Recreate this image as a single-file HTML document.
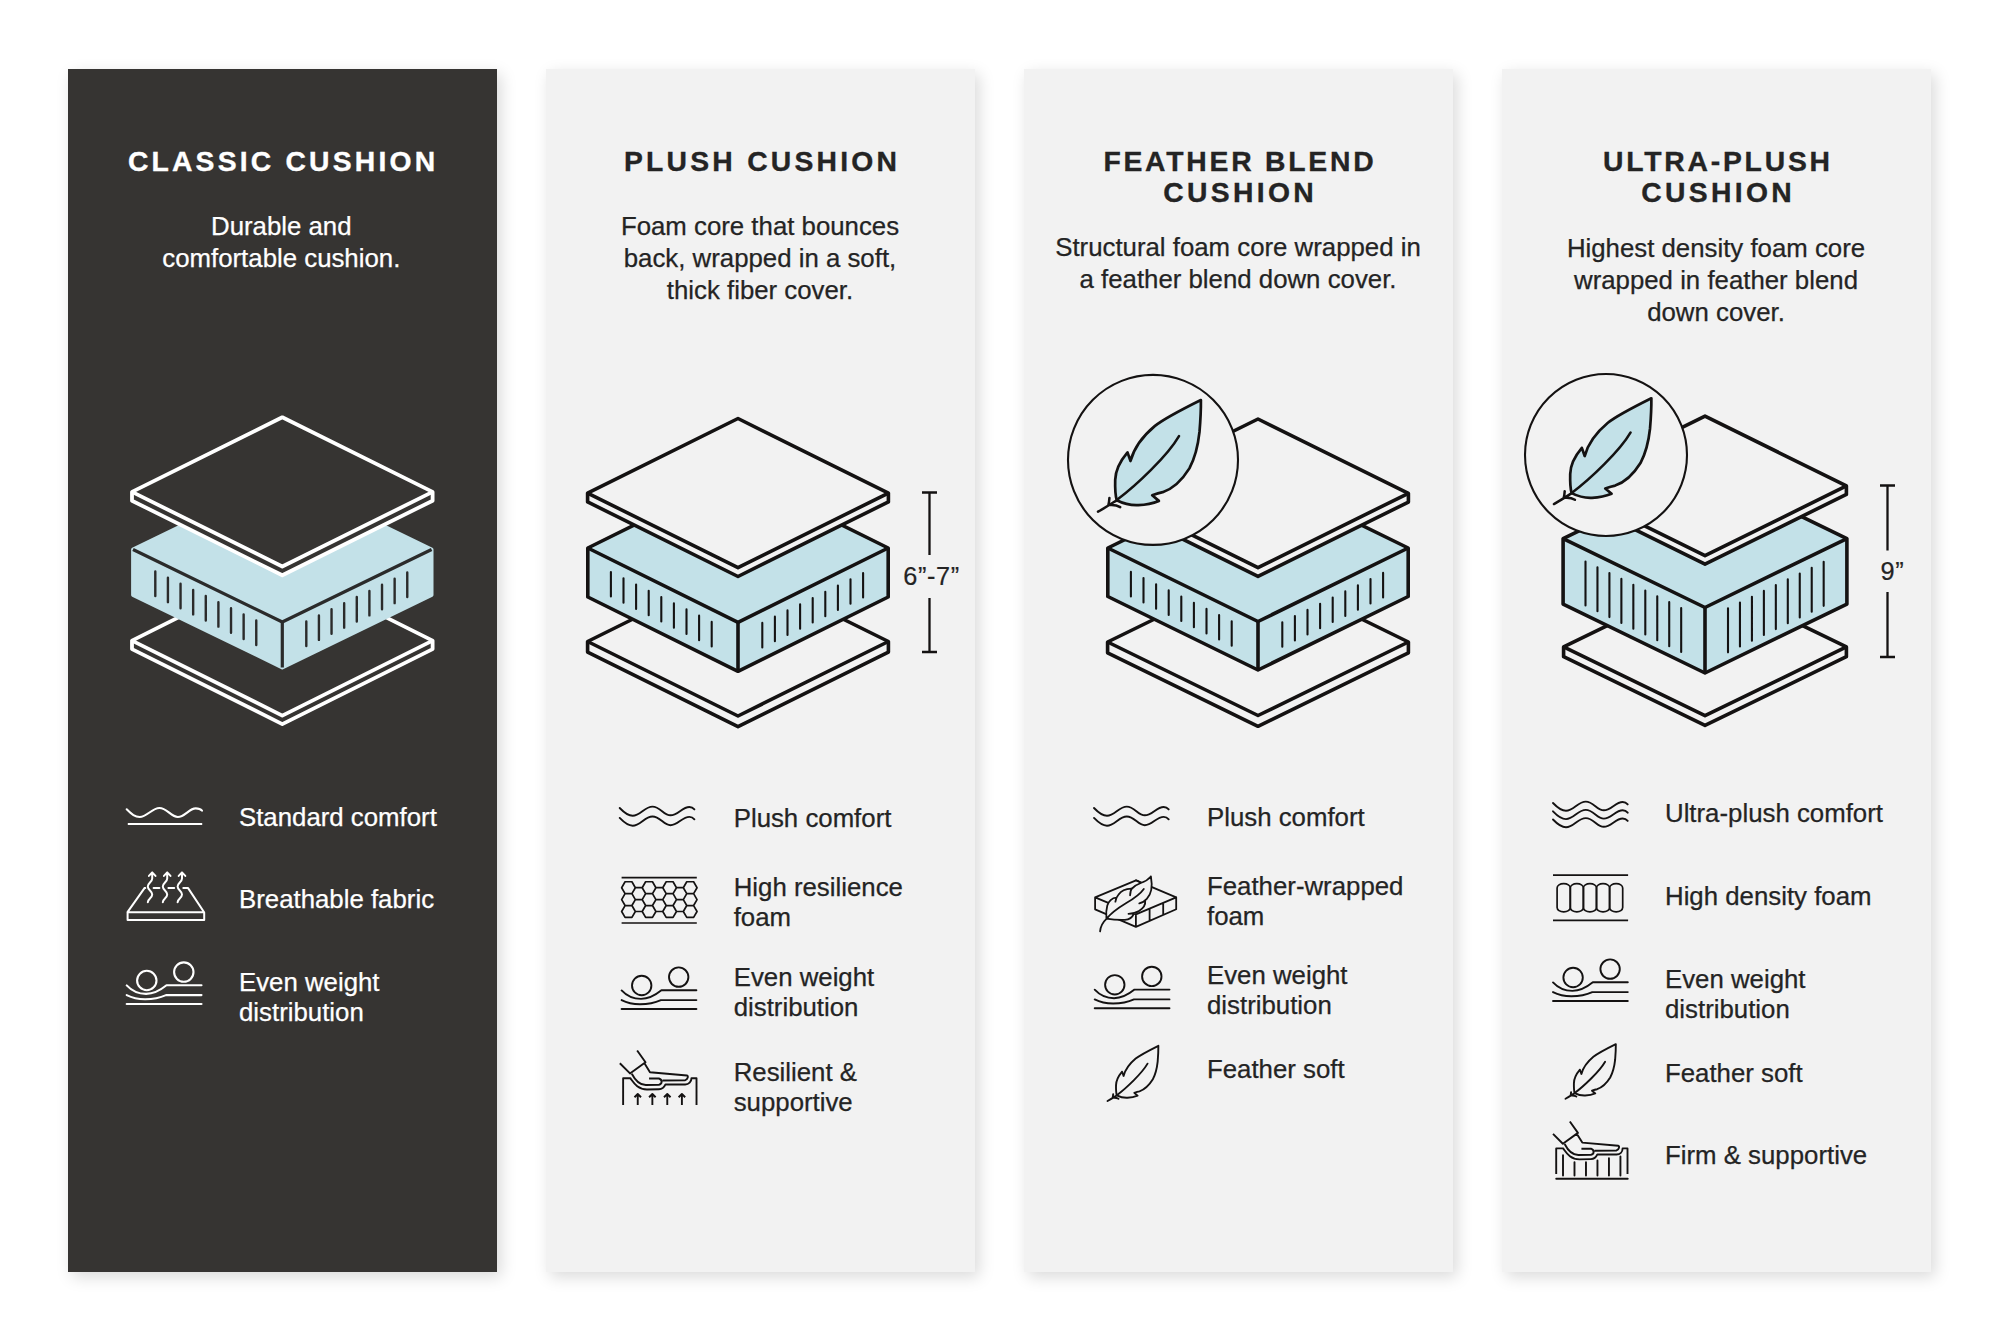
<!DOCTYPE html>
<html><head><meta charset="utf-8"><style>
html,body{margin:0;padding:0;background:#fff;width:2010px;height:1341px;overflow:hidden;position:relative}
.pnl{position:absolute;top:69px;width:429px;height:1203px;background:#f2f2f2;box-shadow:4px 5px 15px rgba(0,0,0,0.15)}
.pnl.dk{background:#363432}
div.ttl,div.dsc,div.lst,div.dim{position:absolute;font-family:"Liberation Sans",sans-serif;color:#242424;white-space:nowrap}
.ttl{font-weight:700;font-size:28.3px;line-height:31px;-webkit-text-stroke:0.35px currentColor}
.dsc{font-size:25.8px;line-height:32px;-webkit-text-stroke:0.25px currentColor}
.lst{font-size:25.8px;line-height:30px;-webkit-text-stroke:0.25px currentColor}
.dim{font-size:25.3px;line-height:30px;letter-spacing:0.6px;-webkit-text-stroke:0.2px currentColor}
div.wt{color:#fff}
svg{position:absolute;left:0;top:0}
</style></head><body>
<div class="pnl dk" style="left:68px"></div>
<div class="pnl" style="left:546px"></div>
<div class="pnl" style="left:1024px"></div>
<div class="pnl" style="left:1502px"></div>
<svg width="2010" height="1341" viewBox="0 0 2010 1341">
<polygon points="132.00,640.60 282.30,565.60 432.60,640.60 432.60,649.10 282.30,724.10 132.00,649.10" fill="#363432" stroke="#ffffff" stroke-width="3.8" stroke-linejoin="round"/>
<polyline points="132.00,640.60 282.30,715.60 432.60,640.60" fill="none" stroke="#ffffff" stroke-width="3.8" stroke-linejoin="round"/>
<polygon points="133.00,549.50 282.30,477.00 431.60,549.50 431.60,595.00 282.30,667.50 133.00,595.00" fill="#c3e1e8" stroke="#c3e1e8" stroke-width="3.8" stroke-linejoin="round"/>
<polyline points="133.00,549.50 282.30,622.00 431.60,549.50" fill="none" stroke="#2b2b2b" stroke-width="3.2" stroke-linejoin="round"/>
<line x1="282.30" y1="622.00" x2="282.30" y2="667.50" stroke="#2b2b2b" stroke-width="3.2"/>
<path d="M155.30 571.53v24.50M306.30 621.55v24.50M167.92 577.66v24.50M318.92 615.42v24.50M180.54 583.79v24.50M331.54 609.29v24.50M193.16 589.91v24.50M344.16 603.16v24.50M205.78 596.04v24.50M356.78 597.03v24.50M218.40 602.17v24.50M369.40 590.90v24.50M231.02 608.30v24.50M382.02 584.78v24.50M243.64 614.43v24.50M394.64 578.65v24.50M256.26 620.55v24.50M407.26 572.52v24.50" stroke="#2b2b2b" stroke-width="2.4" stroke-linecap="round" fill="none"/>
<polygon points="132.00,491.90 282.30,417.30 432.60,491.90 432.60,500.70 282.30,575.30 132.00,500.70" fill="#363432" stroke="#ffffff" stroke-width="3.8" stroke-linejoin="round"/>
<polyline points="132.00,491.90 282.30,566.50 432.60,491.90" fill="none" stroke="#ffffff" stroke-width="3.8" stroke-linejoin="round"/>
<polygon points="587.60,641.50 738.00,567.00 888.40,641.50 888.40,652.10 738.00,726.60 587.60,652.10" fill="#f2f2f2" stroke="#141212" stroke-width="3.6" stroke-linejoin="round"/>
<polyline points="587.60,641.50 738.00,716.00 888.40,641.50" fill="none" stroke="#141212" stroke-width="3.6" stroke-linejoin="round"/>
<polygon points="587.80,548.00 738.00,473.70 888.20,548.00 888.20,597.00 738.00,671.30 587.80,597.00" fill="#c3e1e8" stroke="#141212" stroke-width="3.6" stroke-linejoin="round"/>
<polyline points="587.80,548.00 738.00,622.30 888.20,548.00" fill="none" stroke="#141212" stroke-width="3.6" stroke-linejoin="round"/>
<line x1="738.00" y1="622.30" x2="738.00" y2="671.30" stroke="#141212" stroke-width="3.6"/>
<path d="M610.90 572.03v24.50M762.30 622.88v24.50M623.50 578.26v24.50M774.90 616.65v24.50M636.10 584.49v24.50M787.50 610.41v24.50M648.70 590.73v24.50M800.10 604.18v24.50M661.30 596.96v24.50M812.70 597.95v24.50M673.90 603.19v24.50M825.30 591.71v24.50M686.50 609.42v24.50M837.90 585.48v24.50M699.10 615.66v24.50M850.50 579.25v24.50M711.70 621.89v24.50M863.10 573.02v24.50" stroke="#141212" stroke-width="2.1" stroke-linecap="round" fill="none"/>
<polygon points="587.60,493.10 738.00,418.50 888.40,493.10 888.40,501.90 738.00,576.50 587.60,501.90" fill="#f2f2f2" stroke="#141212" stroke-width="3.6" stroke-linejoin="round"/>
<polyline points="587.60,493.10 738.00,567.70 888.40,493.10" fill="none" stroke="#141212" stroke-width="3.6" stroke-linejoin="round"/>
<polygon points="1107.60,642.00 1258.00,568.50 1408.40,642.00 1408.40,652.80 1258.00,726.30 1107.60,652.80" fill="#f2f2f2" stroke="#141212" stroke-width="3.6" stroke-linejoin="round"/>
<polyline points="1107.60,642.00 1258.00,715.50 1408.40,642.00" fill="none" stroke="#141212" stroke-width="3.6" stroke-linejoin="round"/>
<polygon points="1107.80,548.00 1258.00,474.50 1408.20,548.00 1408.20,596.50 1258.00,670.00 1107.80,596.50" fill="#c3e1e8" stroke="#141212" stroke-width="3.6" stroke-linejoin="round"/>
<polyline points="1107.80,548.00 1258.00,621.50 1408.20,548.00" fill="none" stroke="#141212" stroke-width="3.6" stroke-linejoin="round"/>
<line x1="1258.00" y1="621.50" x2="1258.00" y2="670.00" stroke="#141212" stroke-width="3.6"/>
<path d="M1130.90 571.90v24.50M1282.30 622.21v24.50M1143.50 578.07v24.50M1294.90 616.04v24.50M1156.10 584.24v24.50M1307.50 609.88v24.50M1168.70 590.40v24.50M1320.10 603.71v24.50M1181.30 596.57v24.50M1332.70 597.55v24.50M1193.90 602.73v24.50M1345.30 591.38v24.50M1206.50 608.90v24.50M1357.90 585.21v24.50M1219.10 615.06v24.50M1370.50 579.05v24.50M1231.70 621.23v24.50M1383.10 572.88v24.50" stroke="#141212" stroke-width="2.1" stroke-linecap="round" fill="none"/>
<polygon points="1107.60,493.30 1258.00,419.00 1408.40,493.30 1408.40,502.10 1258.00,576.40 1107.60,502.10" fill="#f2f2f2" stroke="#141212" stroke-width="3.6" stroke-linejoin="round"/>
<polyline points="1107.60,493.30 1258.00,567.60 1408.40,493.30" fill="none" stroke="#141212" stroke-width="3.6" stroke-linejoin="round"/>
<polygon points="1563.60,646.90 1705.00,578.20 1846.40,646.90 1846.40,656.70 1705.00,725.40 1563.60,656.70" fill="#f2f2f2" stroke="#141212" stroke-width="3.6" stroke-linejoin="round"/>
<polyline points="1563.60,646.90 1705.00,715.60 1846.40,646.90" fill="none" stroke="#141212" stroke-width="3.6" stroke-linejoin="round"/>
<polygon points="1563.10,538.60 1705.00,469.70 1846.90,538.60 1846.90,604.10 1705.00,673.00 1563.10,604.10" fill="#c3e1e8" stroke="#141212" stroke-width="3.6" stroke-linejoin="round"/>
<polyline points="1563.10,538.60 1705.00,607.50 1846.90,538.60" fill="none" stroke="#141212" stroke-width="3.6" stroke-linejoin="round"/>
<line x1="1705.00" y1="607.50" x2="1705.00" y2="673.00" stroke="#141212" stroke-width="3.6"/>
<path d="M1585.50 561.48v44.00M1728.00 608.33v44.00M1597.46 567.28v44.00M1739.96 602.53v44.00M1609.42 573.09v44.00M1751.92 596.72v44.00M1621.38 578.90v44.00M1763.88 590.91v44.00M1633.34 584.71v44.00M1775.84 585.10v44.00M1645.30 590.51v44.00M1787.80 579.30v44.00M1657.26 596.32v44.00M1799.76 573.49v44.00M1669.22 602.13v44.00M1811.72 567.68v44.00M1681.18 607.93v44.00M1823.68 561.87v44.00" stroke="#141212" stroke-width="2.1" stroke-linecap="round" fill="none"/>
<polygon points="1563.60,485.90 1705.00,416.10 1846.40,485.90 1846.40,494.40 1705.00,564.20 1563.60,494.40" fill="#f2f2f2" stroke="#141212" stroke-width="3.6" stroke-linejoin="round"/>
<polyline points="1563.60,485.90 1705.00,555.70 1846.40,485.90" fill="none" stroke="#141212" stroke-width="3.6" stroke-linejoin="round"/>
<path d="M922.0 492.5h15M929.5 492.5V555M929.5 598V652M922.0 652h15" stroke="#141212" stroke-width="2.3" fill="none"/>
<path d="M1880.0 485.5h15M1887.5 485.5V550.5M1887.5 592V657M1880.0 657h15" stroke="#141212" stroke-width="2.3" fill="none"/>
<circle cx="1153" cy="459.9" r="85" fill="#f2f2f2" stroke="#141212" stroke-width="2.1"/>
<g transform="translate(1153 459.9) scale(1.0)" stroke="#141212" stroke-linecap="round" stroke-linejoin="round"><path d="M47.9,-59.9 C30,-51 12,-42 2,-34 C-10,-24 -19,-12 -22.5,1.1 L-25.5,-7.5 C-31,-1 -37.5,9 -37.8,20 C-38,28 -37.5,36 -36.3,40.3 C-29,44 -21,45.5 -14.7,45.2 C-5,44.8 1,43 5.9,41 L-0.8,35.4 C3,34 6,33 9.7,32.3 C18,29.5 28,22 36.4,8.5 C42,-2 45,-14 46.5,-28 C47.5,-40 48,-52 47.9,-59.9 Z" fill="#c3e1e8" stroke-width="2.7" vector-effect="non-scaling-stroke"/><path d="M26,-23.8 C18,-10 8,0 -2,10 C-12,20 -24,31 -35.6,39.6 M-36,40.2 C-42,44 -48,48 -55,51.8 M-43.6,38.2 C-43.8,41 -44,43 -44.6,45 M-32.8,47.3 C-35,46 -39,45 -42.6,45.2" fill="none" stroke-width="2.5" vector-effect="non-scaling-stroke"/></g>
<circle cx="1606" cy="455" r="81" fill="#f2f2f2" stroke="#141212" stroke-width="2.1"/>
<g transform="translate(1606 455) scale(0.947)" stroke="#141212" stroke-linecap="round" stroke-linejoin="round"><path d="M47.9,-59.9 C30,-51 12,-42 2,-34 C-10,-24 -19,-12 -22.5,1.1 L-25.5,-7.5 C-31,-1 -37.5,9 -37.8,20 C-38,28 -37.5,36 -36.3,40.3 C-29,44 -21,45.5 -14.7,45.2 C-5,44.8 1,43 5.9,41 L-0.8,35.4 C3,34 6,33 9.7,32.3 C18,29.5 28,22 36.4,8.5 C42,-2 45,-14 46.5,-28 C47.5,-40 48,-52 47.9,-59.9 Z" fill="#c3e1e8" stroke-width="2.7" vector-effect="non-scaling-stroke"/><path d="M26,-23.8 C18,-10 8,0 -2,10 C-12,20 -24,31 -35.6,39.6 M-36,40.2 C-42,44 -48,48 -55,51.8 M-43.6,38.2 C-43.8,41 -44,43 -44.6,45 M-32.8,47.3 C-35,46 -39,45 -42.6,45.2" fill="none" stroke-width="2.5" vector-effect="non-scaling-stroke"/></g>
<g transform="translate(0 0) scale(1)" fill="none" stroke="#ffffff" stroke-width="2.1" stroke-linecap="round" stroke-linejoin="round"><path d="M126.7,809.3 C132,814.5 135,817 139.7,817 C147,817 152,808 159.4,808 C167,808 171,817 177.8,817 C185,817 189,808.4 195.7,808.4 C199,808.4 201,809.5 202,810.7" vector-effect="non-scaling-stroke" /><path d="M127.8,824 L202.2,824" vector-effect="non-scaling-stroke" stroke-linecap="butt"/></g>
<g transform="translate(0 0) scale(1)" fill="none" stroke="#ffffff" stroke-width="2.0" stroke-linecap="round" stroke-linejoin="round"><path d="M144.5,888.1 L127.5,912.2 L204.1,912.2 L188.1,888.1 L183.3,888.1 M159.4,888.1 L153.6,888.1 M174.2,888.1 L168.4,888.1 M127.6,912.5 L127.6,919.9 L204.2,919.9 L204.2,912.5 M144.5,888.1 L145.3,888.1 M147.8,902.2 C147.8,899 152.2,898 152.2,894.5 C152.2,891 147.8,890 147.8,886.5 C147.8,883 152.2,882 152.2,878.4 L152.2,872.4 M148.9,875.9 L152.2,872.4 L155.5,875.9 M162.8,902.2 C162.8,899 167.2,898 167.2,894.5 C167.2,891 162.8,890 162.8,886.5 C162.8,883 167.2,882 167.2,878.4 L167.2,872.4 M163.9,875.9 L167.2,872.4 L170.5,875.9 M177.60000000000002,902.2 C177.60000000000002,899 182.0,898 182.0,894.5 C182.0,891 177.60000000000002,890 177.60000000000002,886.5 C177.60000000000002,883 182.0,882 182.0,878.4 L182.0,872.4 M178.70000000000002,875.9 L182.0,872.4 L185.3,875.9" vector-effect="non-scaling-stroke" /></g>
<g transform="translate(126.7 1004) scale(1)" fill="none" stroke="#ffffff" stroke-width="2.1" stroke-linecap="round" stroke-linejoin="round"><circle cx="20.1" cy="-23.5" r="9.7" vector-effect="non-scaling-stroke"/><circle cx="57.1" cy="-31.9" r="9.7" vector-effect="non-scaling-stroke"/><path d="M0,-18.6 C5,-13.2 12,-10.1 19.4,-10.1 C27,-10.1 34,-14 39.8,-18.7 L74.8,-18.7" vector-effect="non-scaling-stroke"/><path d="M0,-8.9 C6,-5.8 12,-4.8 18.4,-4.8 C27,-4.8 34,-6.5 39.3,-8.9 L74.8,-8.9" vector-effect="non-scaling-stroke"/><path d="M0,0 L74.8,0" vector-effect="non-scaling-stroke"/></g>
<g transform="translate(621.6 1009) scale(1)" fill="none" stroke="#141212" stroke-width="1.9" stroke-linecap="round" stroke-linejoin="round"><circle cx="20.1" cy="-23.5" r="9.7" vector-effect="non-scaling-stroke"/><circle cx="57.1" cy="-31.9" r="9.7" vector-effect="non-scaling-stroke"/><path d="M0,-18.6 C5,-13.2 12,-10.1 19.4,-10.1 C27,-10.1 34,-14 39.8,-18.7 L74.8,-18.7" vector-effect="non-scaling-stroke"/><path d="M0,-8.9 C6,-5.8 12,-4.8 18.4,-4.8 C27,-4.8 34,-6.5 39.3,-8.9 L74.8,-8.9" vector-effect="non-scaling-stroke"/><path d="M0,0 L74.8,0" vector-effect="non-scaling-stroke"/></g>
<g transform="translate(1094.7 1008.3) scale(1)" fill="none" stroke="#141212" stroke-width="1.9" stroke-linecap="round" stroke-linejoin="round"><circle cx="20.1" cy="-23.5" r="9.7" vector-effect="non-scaling-stroke"/><circle cx="57.1" cy="-31.9" r="9.7" vector-effect="non-scaling-stroke"/><path d="M0,-18.6 C5,-13.2 12,-10.1 19.4,-10.1 C27,-10.1 34,-14 39.8,-18.7 L74.8,-18.7" vector-effect="non-scaling-stroke"/><path d="M0,-8.9 C6,-5.8 12,-4.8 18.4,-4.8 C27,-4.8 34,-6.5 39.3,-8.9 L74.8,-8.9" vector-effect="non-scaling-stroke"/><path d="M0,0 L74.8,0" vector-effect="non-scaling-stroke"/></g>
<g transform="translate(1553 1001) scale(1)" fill="none" stroke="#141212" stroke-width="1.9" stroke-linecap="round" stroke-linejoin="round"><circle cx="20.1" cy="-23.5" r="9.7" vector-effect="non-scaling-stroke"/><circle cx="57.1" cy="-31.9" r="9.7" vector-effect="non-scaling-stroke"/><path d="M0,-18.6 C5,-13.2 12,-10.1 19.4,-10.1 C27,-10.1 34,-14 39.8,-18.7 L74.8,-18.7" vector-effect="non-scaling-stroke"/><path d="M0,-8.9 C6,-5.8 12,-4.8 18.4,-4.8 C27,-4.8 34,-6.5 39.3,-8.9 L74.8,-8.9" vector-effect="non-scaling-stroke"/><path d="M0,0 L74.8,0" vector-effect="non-scaling-stroke"/></g>
<g transform="translate(0 0) scale(1)" fill="none" stroke="#141212" stroke-width="1.9" stroke-linecap="round" stroke-linejoin="round"><path d="M619.7,808 C624.7,813.2 628.2,815.8 632.7,815.8 C640.2,815.8 644.7,806.6 652.5,806.6 C660.2,806.6 663.7,815.3 670.5,815.3 C677.7,815.3 682.2,807 689.4000000000001,807 C691.7,807 693.2,808 694.4000000000001,809.4 M619.7,817.9 C624.7,823.1 628.2,825.6999999999999 632.7,825.6999999999999 C640.2,825.6999999999999 644.7,816.5 652.5,816.5 C660.2,816.5 663.7,825.1999999999999 670.5,825.1999999999999 C677.7,825.1999999999999 682.2,816.9 689.4000000000001,816.9 C691.7,816.9 693.2,817.9 694.4000000000001,819.3" vector-effect="non-scaling-stroke" /></g>
<g transform="translate(0 0) scale(1)" fill="none" stroke="#141212" stroke-width="1.9" stroke-linecap="round" stroke-linejoin="round"><path d="M1094,808 C1099,813.2 1102.5,815.8 1107,815.8 C1114.5,815.8 1119,806.6 1126.8,806.6 C1134.5,806.6 1138,815.3 1144.8,815.3 C1152,815.3 1156.5,807 1163.7,807 C1166,807 1167.5,808 1168.7,809.4 M1094,817.9 C1099,823.1 1102.5,825.6999999999999 1107,825.6999999999999 C1114.5,825.6999999999999 1119,816.5 1126.8,816.5 C1134.5,816.5 1138,825.1999999999999 1144.8,825.1999999999999 C1152,825.1999999999999 1156.5,816.9 1163.7,816.9 C1166,816.9 1167.5,817.9 1168.7,819.3" vector-effect="non-scaling-stroke" /></g>
<g transform="translate(0 0) scale(1)" fill="none" stroke="#141212" stroke-width="1.9" stroke-linecap="round" stroke-linejoin="round"><path d="M1553,803 C1558,808.2 1561.5,810.8 1566,810.8 C1573.5,810.8 1578,801.6 1585.8,801.6 C1593.5,801.6 1597,810.3 1603.8,810.3 C1611,810.3 1615.5,802 1622.7,802 C1625,802 1626.5,803 1627.7,804.4 M1553,811.3 C1558,816.5 1561.5,819.0999999999999 1566,819.0999999999999 C1573.5,819.0999999999999 1578,809.9 1585.8,809.9 C1593.5,809.9 1597,818.5999999999999 1603.8,818.5999999999999 C1611,818.5999999999999 1615.5,810.3 1622.7,810.3 C1625,810.3 1626.5,811.3 1627.7,812.6999999999999 M1553,819.5 C1558,824.7 1561.5,827.3 1566,827.3 C1573.5,827.3 1578,818.1 1585.8,818.1 C1593.5,818.1 1597,826.8 1603.8,826.8 C1611,826.8 1615.5,818.5 1622.7,818.5 C1625,818.5 1626.5,819.5 1627.7,820.9" vector-effect="non-scaling-stroke" /></g>
<g transform="translate(0 0) scale(1)" fill="none" stroke="#141212" stroke-width="1.7" stroke-linecap="round" stroke-linejoin="round"><path d="M635.36,887.70 L631.93,893.64 L625.07,893.64 L621.64,887.70 L625.07,881.76 L631.93,881.76 Z M635.36,899.60 L631.93,905.54 L625.07,905.54 L621.64,899.60 L625.07,893.66 L631.93,893.66 Z M635.36,911.50 L631.93,917.44 L625.07,917.44 L621.64,911.50 L625.07,905.56 L631.93,905.56 Z M645.64,893.65 L642.21,899.59 L635.35,899.59 L631.92,893.65 L635.35,887.71 L642.21,887.71 Z M645.64,905.55 L642.21,911.49 L635.35,911.49 L631.92,905.55 L635.35,899.61 L642.21,899.61 Z M655.92,887.70 L652.49,893.64 L645.63,893.64 L642.20,887.70 L645.63,881.76 L652.49,881.76 Z M655.92,899.60 L652.49,905.54 L645.63,905.54 L642.20,899.60 L645.63,893.66 L652.49,893.66 Z M655.92,911.50 L652.49,917.44 L645.63,917.44 L642.20,911.50 L645.63,905.56 L652.49,905.56 Z M666.20,893.65 L662.77,899.59 L655.91,899.59 L652.48,893.65 L655.91,887.71 L662.77,887.71 Z M666.20,905.55 L662.77,911.49 L655.91,911.49 L652.48,905.55 L655.91,899.61 L662.77,899.61 Z M676.48,887.70 L673.05,893.64 L666.19,893.64 L662.76,887.70 L666.19,881.76 L673.05,881.76 Z M676.48,899.60 L673.05,905.54 L666.19,905.54 L662.76,899.60 L666.19,893.66 L673.05,893.66 Z M676.48,911.50 L673.05,917.44 L666.19,917.44 L662.76,911.50 L666.19,905.56 L673.05,905.56 Z M686.76,893.65 L683.33,899.59 L676.47,899.59 L673.04,893.65 L676.47,887.71 L683.33,887.71 Z M686.76,905.55 L683.33,911.49 L676.47,911.49 L673.04,905.55 L676.47,899.61 L683.33,899.61 Z M697.04,887.70 L693.61,893.64 L686.75,893.64 L683.32,887.70 L686.75,881.76 L693.61,881.76 Z M697.04,899.60 L693.61,905.54 L686.75,905.54 L683.32,899.60 L686.75,893.66 L693.61,893.66 Z M697.04,911.50 L693.61,917.44 L686.75,917.44 L683.32,911.50 L686.75,905.56 L693.61,905.56 Z M621.6,877.6 L696.8,877.6 M621.6,923 L696.8,923" vector-effect="non-scaling-stroke" stroke-linecap="butt"/></g>
<g transform="translate(610 1040) scale(0.059665871121718374)" fill="none" stroke="#141212" stroke-width="1.9" stroke-linecap="round" stroke-linejoin="round"><path d="M165,390 L335,560 L595,372 L455,175 M580,395 L670,540 L1290,595 C1315,600 1310,650 1260,675 L880,680 M365,565 C430,690 500,755 600,755 L820,750 C880,740 880,665 820,645 L655,645 M220,1090 L220,640 L340,640 C400,720 460,830 620,830 L820,825 C880,825 910,790 930,745 L1260,745 C1320,745 1365,700 1365,640 L1450,640 L1450,1090 M465,1090 L465,905 M410,960 L465,905 L520,960 M710,1090 L710,905 M655,960 L710,905 L765,960 M960,1090 L960,905 M905,960 L960,905 L1015,960 M1205,1090 L1205,905 M1150,960 L1205,905 L1260,960" vector-effect="non-scaling-stroke" stroke-linecap="butt"/></g>
<g transform="translate(1543.45 1111.3) scale(0.05797)" fill="none" stroke="#141212" stroke-width="1.9" stroke-linecap="round" stroke-linejoin="round"><path d="M165,390 L335,560 L595,372 L455,175 M580,395 L670,540 L1290,595 C1315,600 1310,650 1260,675 L880,680 M365,565 C430,690 500,755 600,755 L820,750 C880,740 880,665 820,645 L655,645 M220,1080 L220,640 L340,640 C400,720 460,830 620,830 L820,825 C880,825 910,790 930,745 L1260,745 C1320,745 1365,700 1365,640 L1450,640 L1450,1080" vector-effect="non-scaling-stroke" stroke-linecap="butt"/></g>
<g transform="translate(1545 1115) scale(0.05219751539826704)" fill="none" stroke="#141212" stroke-width="1.9" stroke-linecap="round" stroke-linejoin="round"><path d="M215,1220 L1585,1220 M345,770 L345,1160 M565,905 L565,1160 M785,905 L785,1160 M1005,870 L1005,1160 M1225,830 L1225,1160 M1445,795 L1445,1160" vector-effect="non-scaling-stroke" /></g>
<g transform="translate(0 0) scale(1)" fill="none" stroke="#141212" stroke-width="1.8" stroke-linecap="round" stroke-linejoin="round"><path d="M1553,875.2 L1628.1,875.2 M1553,920.3 L1628.1,920.3" vector-effect="non-scaling-stroke" stroke-linecap="butt"/></g>
<g transform="translate(0 0) scale(1)" fill="none" stroke="#141212" stroke-width="1.7" stroke-linecap="round" stroke-linejoin="round"><rect x="1557.1" y="883.6" width="13.200000000000045" height="28.3" rx="6.5" ry="4.4" vector-effect="non-scaling-stroke"/><rect x="1570.3" y="883.6" width="13.100000000000136" height="28.3" rx="6.5" ry="4.4" vector-effect="non-scaling-stroke"/><rect x="1583.4" y="883.6" width="13.099999999999909" height="28.3" rx="6.5" ry="4.4" vector-effect="non-scaling-stroke"/><rect x="1596.5" y="883.6" width="13.099999999999909" height="28.3" rx="6.5" ry="4.4" vector-effect="non-scaling-stroke"/><rect x="1609.6" y="883.6" width="13.100000000000136" height="28.3" rx="6.5" ry="4.4" vector-effect="non-scaling-stroke"/></g>
<g transform="translate(1134.7 1075.4) scale(0.494)" stroke="#141212" fill="none" stroke-linecap="round" stroke-linejoin="round"><path d="M47.9,-59.9 C30,-51 12,-42 2,-34 C-10,-24 -19,-12 -22.5,1.1 L-25.5,-7.5 C-31,-1 -37.5,9 -37.8,20 C-38,28 -37.5,36 -36.3,40.3 C-29,44 -21,45.5 -14.7,45.2 C-5,44.8 1,43 5.9,41 L-0.8,35.4 C3,34 6,33 9.7,32.3 C18,29.5 28,22 36.4,8.5 C42,-2 45,-14 46.5,-28 C47.5,-40 48,-52 47.9,-59.9 Z" stroke-width="1.9" vector-effect="non-scaling-stroke"/><path d="M26,-23.8 C18,-10 8,0 -2,10 C-12,20 -24,31 -35.6,39.6 M-36,40.2 C-42,44 -48,48 -55,51.8 M-43.6,38.2 C-43.8,41 -44,43 -44.6,45 M-32.8,47.3 C-35,46 -39,45 -42.6,45.2" stroke-width="1.9" vector-effect="non-scaling-stroke"/></g>
<g transform="translate(1592.4 1073.4) scale(0.489)" stroke="#141212" fill="none" stroke-linecap="round" stroke-linejoin="round"><path d="M47.9,-59.9 C30,-51 12,-42 2,-34 C-10,-24 -19,-12 -22.5,1.1 L-25.5,-7.5 C-31,-1 -37.5,9 -37.8,20 C-38,28 -37.5,36 -36.3,40.3 C-29,44 -21,45.5 -14.7,45.2 C-5,44.8 1,43 5.9,41 L-0.8,35.4 C3,34 6,33 9.7,32.3 C18,29.5 28,22 36.4,8.5 C42,-2 45,-14 46.5,-28 C47.5,-40 48,-52 47.9,-59.9 Z" stroke-width="1.9" vector-effect="non-scaling-stroke"/><path d="M26,-23.8 C18,-10 8,0 -2,10 C-12,20 -24,31 -35.6,39.6 M-36,40.2 C-42,44 -48,48 -55,51.8 M-43.6,38.2 C-43.8,41 -44,43 -44.6,45 M-32.8,47.3 C-35,46 -39,45 -42.6,45.2" stroke-width="1.9" vector-effect="non-scaling-stroke"/></g>
<g fill="none" stroke="#141212" stroke-width="1.8" stroke-linejoin="round" stroke-linecap="round"><path d="M1095.1,897.4 L1136,880.4 L1176.2,897.3 L1176.2,909.3 L1135.9,926.9 L1095.1,909.3 Z M1095.1,897.4 L1135.9,914.4 L1176.2,897.3 M1135.9,914.4 L1135.9,926.9 M1149.6,908.6 L1149.6,920.6 M1163.2,902.8 L1163.2,914.8" fill="#f2f2f2"/><path d="M1150.9,876.5 C1152.6,886 1151.5,894 1146.8,898.8 L1145.2,900.4 C1145.8,905 1143,908.5 1139,911 L1133.8,913.9 C1132.5,917 1130,919.5 1125,919.8 C1120,920 1112,919.5 1106.4,918.6 C1106,914 1106.3,909 1107.3,905.5 C1108.5,901.5 1112,897.8 1116.3,897.7 C1118,894 1122,890 1131.3,888.6 C1133,886.5 1137,884 1140.8,883 C1144,882 1148,880 1150.9,876.5 Z" fill="#f2f2f2" stroke="none"/><path d="M1150.9,876.5 C1152.6,886 1151.5,894 1146.8,898.8 C1144.5,901.3 1141.5,902.8 1139.3,903.4 M1145.2,900.4 C1145.8,905 1143,908.5 1139,911 C1136.5,912.6 1133,913.6 1128.5,913.8 M1133.8,913.9 C1132.5,917 1130,919.5 1125,919.8 C1120,920 1112,919.5 1106.4,918.6 M1116.3,897.7 C1112,897.8 1108.5,901.5 1107.3,905.5 C1106.3,909 1106,914 1106.4,918.6 M1131.3,888.6 C1126,888.8 1121,891 1118.4,894.7 C1116.5,897 1115.5,899.5 1115.4,901.7 M1140.8,883 C1137.5,884.2 1134,886.5 1132,888.5 C1130.6,890 1130.2,893 1130.1,895.3 M1140.8,883 C1144,882 1148,880 1150.9,876.5 M1136,880.4 C1137.2,879.9 1138.5,881 1140.8,883 M1143.8,889 C1141,893 1135,898 1125.9,903.3 C1119,907.5 1112,912 1106.7,918.6 M1106.7,918.6 C1103,922 1100.5,926 1100.1,931.4"/></g>
</svg>
<div class="ttl wt" style="left:67px;top:145.8px;width:429px;text-align:center;letter-spacing:3.19px;padding-left:3.19px;box-sizing:border-box">CLASSIC CUSHION</div>
<div class="ttl" style="left:546px;top:145.8px;width:429px;text-align:center;letter-spacing:3.23px;padding-left:3.23px;box-sizing:border-box">PLUSH CUSHION</div>
<div class="ttl" style="left:1024px;top:145.8px;width:429px;text-align:center;letter-spacing:2.78px;padding-left:2.78px;box-sizing:border-box">FEATHER BLEND</div>
<div class="ttl" style="left:1024px;top:176.7px;width:429px;text-align:center;letter-spacing:3.3px;padding-left:3.3px;box-sizing:border-box">CUSHION</div>
<div class="ttl" style="left:1502px;top:145.8px;width:429px;text-align:center;letter-spacing:2.8px;padding-left:2.8px;box-sizing:border-box">ULTRA-PLUSH</div>
<div class="ttl" style="left:1502px;top:176.7px;width:429px;text-align:center;letter-spacing:3.3px;padding-left:3.3px;box-sizing:border-box">CUSHION</div>
<div class="dsc wt" style="left:66.8px;top:209.86px;width:429px;text-align:center">Durable and<br>comfortable cushion.</div>
<div class="dsc" style="left:545.5px;top:210.16px;width:429px;text-align:center">Foam core that bounces<br>back, wrapped in a soft,<br>thick fiber cover.</div>
<div class="dsc" style="left:1023.5px;top:231.45999999999998px;width:429px;text-align:center">Structural foam core wrapped in<br>a feather blend down cover.</div>
<div class="dsc" style="left:1501.5px;top:231.86px;width:429px;text-align:center">Highest density foam core<br>wrapped in feather blend<br>down cover.</div>
<div class="dim" style="left:903.3px;top:560.5999999999999px;width:100px;text-align:left">6”-7”</div>
<div class="dim" style="left:1880.5px;top:555.6px;width:100px;text-align:left">9”</div>
<div class="lst wt" style="left:239px;top:801.66px;width:300px;text-align:left">Standard comfort</div>
<div class="lst wt" style="left:239px;top:884.06px;width:300px;text-align:left">Breathable fabric</div>
<div class="lst wt" style="left:239px;top:967.4599999999999px;width:300px;text-align:left">Even weight<br>distribution</div>
<div class="lst" style="left:733.7px;top:802.56px;width:300px;text-align:left">Plush comfort</div>
<div class="lst" style="left:733.7px;top:871.66px;width:300px;text-align:left">High resilience<br>foam</div>
<div class="lst" style="left:733.7px;top:961.76px;width:300px;text-align:left">Even weight<br>distribution</div>
<div class="lst" style="left:733.7px;top:1056.86px;width:300px;text-align:left">Resilient &amp;<br>supportive</div>
<div class="lst" style="left:1207px;top:801.66px;width:300px;text-align:left">Plush comfort</div>
<div class="lst" style="left:1207px;top:871.4599999999999px;width:300px;text-align:left">Feather-wrapped<br>foam</div>
<div class="lst" style="left:1207px;top:960.06px;width:300px;text-align:left">Even weight<br>distribution</div>
<div class="lst" style="left:1207px;top:1054.06px;width:300px;text-align:left">Feather soft</div>
<div class="lst" style="left:1665px;top:798.3599999999999px;width:300px;text-align:left">Ultra-plush comfort</div>
<div class="lst" style="left:1665px;top:881.3599999999999px;width:300px;text-align:left">High density foam</div>
<div class="lst" style="left:1665px;top:964.4599999999999px;width:300px;text-align:left">Even weight<br>distribution</div>
<div class="lst" style="left:1665px;top:1058.36px;width:300px;text-align:left">Feather soft</div>
<div class="lst" style="left:1665px;top:1139.86px;width:300px;text-align:left">Firm &amp; supportive</div>
</body></html>
